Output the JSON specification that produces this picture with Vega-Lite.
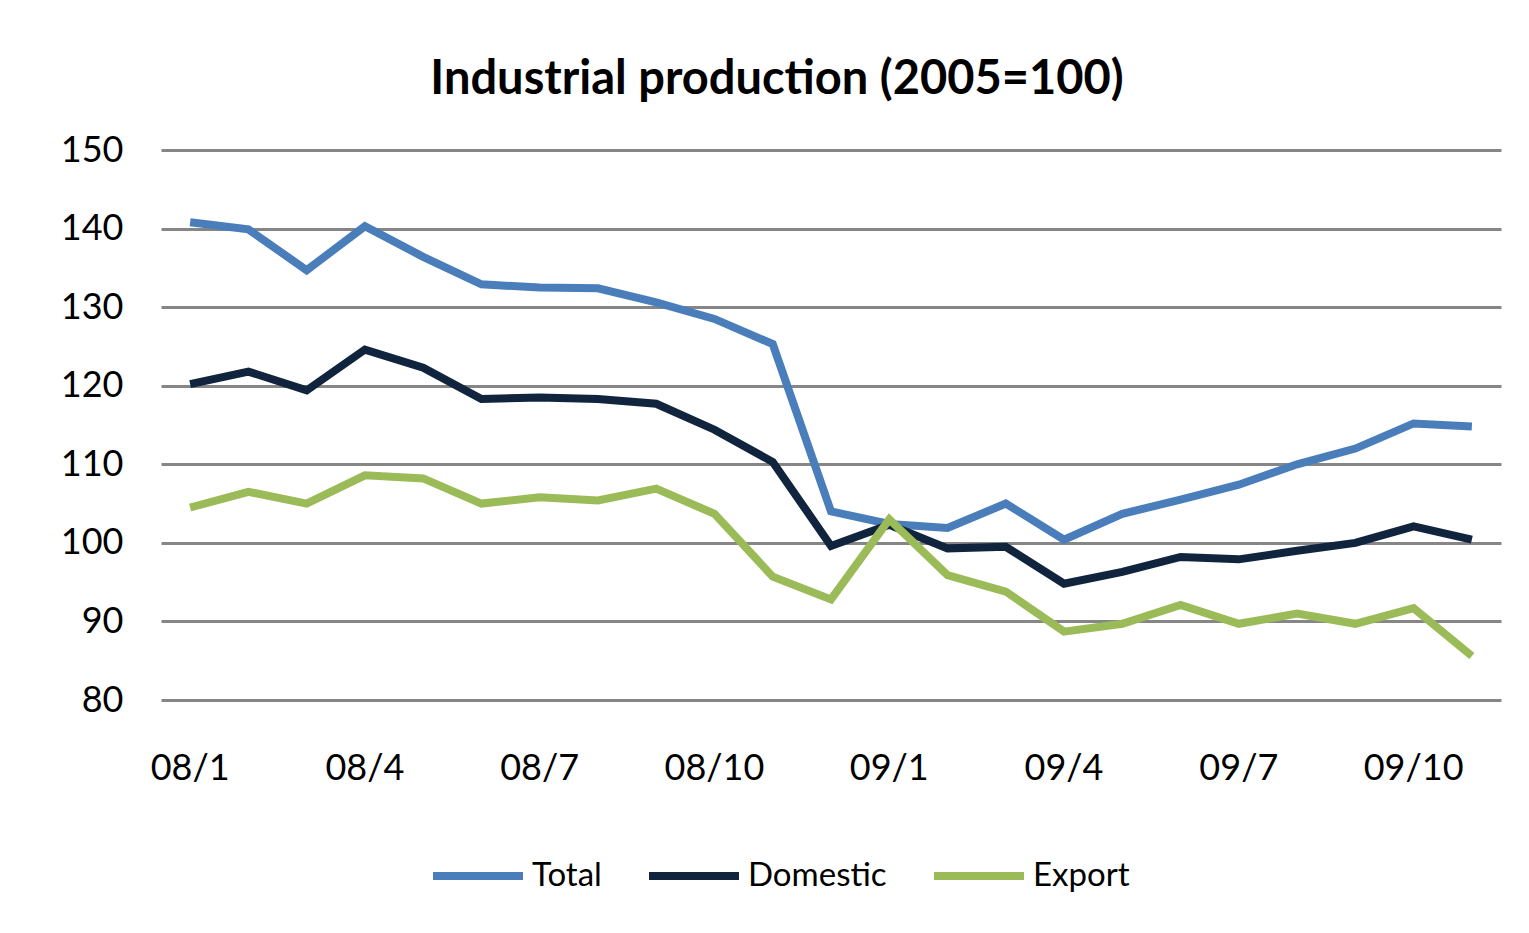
{
  "$schema": "https://vega.github.io/schema/vega-lite/v6.json",
  "width": 1340,
  "height": 550,
  "autosize": {"type": "none"},
  "padding": {"left": 161, "top": 150, "right": 28, "bottom": 233},
  "background": "white",
  "config": {
    "view": {"stroke": null},
    "font": "Lato"
  },
  "title": {
    "text": "Industrial production (2005=100)",
    "font": "Lato",
    "fontSize": 47,
    "fontWeight": "bold",
    "color": "#000000",
    "anchor": "middle",
    "dx": -54,
    "offset": 28
  },
  "data": {
    "values": [
      {"month": "08/1", "series": "Total", "value": 140.8},
      {"month": "08/2", "series": "Total", "value": 139.9},
      {"month": "08/3", "series": "Total", "value": 134.7},
      {"month": "08/4", "series": "Total", "value": 140.3},
      {"month": "08/5", "series": "Total", "value": 136.4},
      {"month": "08/6", "series": "Total", "value": 132.9},
      {"month": "08/7", "series": "Total", "value": 132.5},
      {"month": "08/8", "series": "Total", "value": 132.4},
      {"month": "08/9", "series": "Total", "value": 130.6},
      {"month": "08/10", "series": "Total", "value": 128.5},
      {"month": "08/11", "series": "Total", "value": 125.3},
      {"month": "08/12", "series": "Total", "value": 104.0},
      {"month": "09/1", "series": "Total", "value": 102.4},
      {"month": "09/2", "series": "Total", "value": 101.9},
      {"month": "09/3", "series": "Total", "value": 105.0},
      {"month": "09/4", "series": "Total", "value": 100.4},
      {"month": "09/5", "series": "Total", "value": 103.7},
      {"month": "09/6", "series": "Total", "value": 105.5},
      {"month": "09/7", "series": "Total", "value": 107.4},
      {"month": "09/8", "series": "Total", "value": 110.0},
      {"month": "09/9", "series": "Total", "value": 112.0},
      {"month": "09/10", "series": "Total", "value": 115.2},
      {"month": "09/11", "series": "Total", "value": 114.8},
      {"month": "08/1", "series": "Domestic", "value": 120.2},
      {"month": "08/2", "series": "Domestic", "value": 121.8},
      {"month": "08/3", "series": "Domestic", "value": 119.4},
      {"month": "08/4", "series": "Domestic", "value": 124.6},
      {"month": "08/5", "series": "Domestic", "value": 122.3},
      {"month": "08/6", "series": "Domestic", "value": 118.3},
      {"month": "08/7", "series": "Domestic", "value": 118.5},
      {"month": "08/8", "series": "Domestic", "value": 118.3},
      {"month": "08/9", "series": "Domestic", "value": 117.7},
      {"month": "08/10", "series": "Domestic", "value": 114.4},
      {"month": "08/11", "series": "Domestic", "value": 110.3},
      {"month": "08/12", "series": "Domestic", "value": 99.6},
      {"month": "09/1", "series": "Domestic", "value": 102.3},
      {"month": "09/2", "series": "Domestic", "value": 99.3},
      {"month": "09/3", "series": "Domestic", "value": 99.5},
      {"month": "09/4", "series": "Domestic", "value": 94.8},
      {"month": "09/5", "series": "Domestic", "value": 96.3},
      {"month": "09/6", "series": "Domestic", "value": 98.2},
      {"month": "09/7", "series": "Domestic", "value": 97.9},
      {"month": "09/8", "series": "Domestic", "value": 99.0},
      {"month": "09/9", "series": "Domestic", "value": 100.0},
      {"month": "09/10", "series": "Domestic", "value": 102.1},
      {"month": "09/11", "series": "Domestic", "value": 100.4},
      {"month": "08/1", "series": "Export", "value": 104.5},
      {"month": "08/2", "series": "Export", "value": 106.5},
      {"month": "08/3", "series": "Export", "value": 105.0},
      {"month": "08/4", "series": "Export", "value": 108.6},
      {"month": "08/5", "series": "Export", "value": 108.2},
      {"month": "08/6", "series": "Export", "value": 105.0},
      {"month": "08/7", "series": "Export", "value": 105.8},
      {"month": "08/8", "series": "Export", "value": 105.4},
      {"month": "08/9", "series": "Export", "value": 106.9},
      {"month": "08/10", "series": "Export", "value": 103.7},
      {"month": "08/11", "series": "Export", "value": 95.7},
      {"month": "08/12", "series": "Export", "value": 92.8},
      {"month": "09/1", "series": "Export", "value": 103.0},
      {"month": "09/2", "series": "Export", "value": 95.9},
      {"month": "09/3", "series": "Export", "value": 93.8},
      {"month": "09/4", "series": "Export", "value": 88.7},
      {"month": "09/5", "series": "Export", "value": 89.7},
      {"month": "09/6", "series": "Export", "value": 92.1},
      {"month": "09/7", "series": "Export", "value": 89.7},
      {"month": "09/8", "series": "Export", "value": 91.0},
      {"month": "09/9", "series": "Export", "value": 89.7},
      {"month": "09/10", "series": "Export", "value": 91.7},
      {"month": "09/11", "series": "Export", "value": 85.6}
    ]
  },
  "mark": {"type": "line", "strokeWidth": 8, "strokeJoin": "miter", "strokeCap": "butt"},
  "encoding": {
    "x": {
      "field": "month",
      "type": "ordinal",
      "sort": null,
      "scale": {"type": "band", "paddingInner": 0, "paddingOuter": 0},
      "axis": {
        "title": null,
        "values": ["08/1", "08/4", "08/7", "08/10", "09/1", "09/4", "09/7", "09/10"],
        "domain": false,
        "ticks": false,
        "grid": false,
        "labelAngle": 0,
        "labelFont": "Lato",
        "labelFontSize": 36,
        "labelColor": "#000000",
        "labelPadding": 51
      }
    },
    "y": {
      "field": "value",
      "type": "quantitative",
      "scale": {"domain": [80, 150], "nice": false, "zero": false},
      "axis": {
        "title": null,
        "values": [80, 90, 100, 110, 120, 130, 140, 150],
        "domain": false,
        "ticks": false,
        "grid": true,
        "gridColor": "#868686",
        "gridWidth": 3,
        "gridOpacity": 1,
        "labelFont": "Lato",
        "labelFontSize": 36,
        "labelColor": "#000000",
        "labelPadding": 38
      }
    },
    "color": {
      "field": "series",
      "type": "nominal",
      "scale": {"domain": ["Total", "Domestic", "Export"], "range": ["#4A7EBB", "#10243E", "#9BBB59"]},
      "legend": {
        "title": null,
        "orient": "none",
        "direction": "horizontal",
        "legendX": 268,
        "legendY": 677,
        "symbolType": "stroke",
        "symbolSize": 8100,
        "symbolStrokeWidth": 8,
        "labelFont": "Lato",
        "labelFontSize": 33,
        "labelColor": "#000000",
        "labelOffset": 5,
        "columnPadding": 31
      }
    }
  }
}
